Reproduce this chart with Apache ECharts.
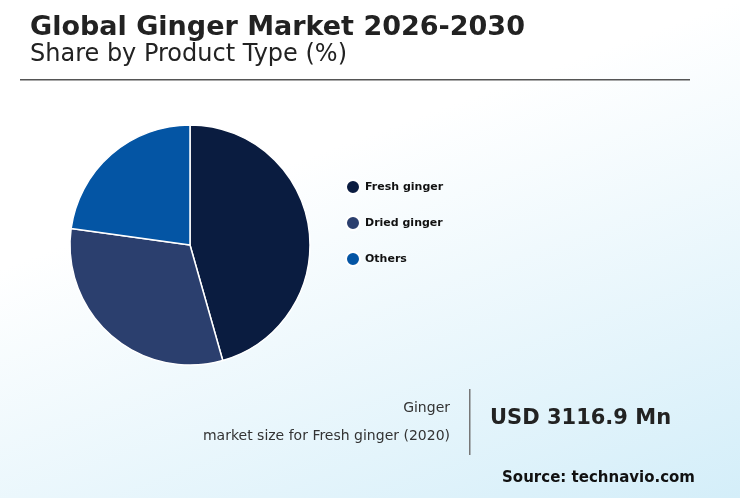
<!DOCTYPE html>
<html><head><meta charset="utf-8">
<script src="https://cdn.jsdelivr.net/npm/echarts@6/dist/echarts.min.js"></script>
<style>html,body{margin:0;padding:0;}#c{width:740px;height:498px;background:linear-gradient(160deg,#ffffff 35%,#d4eef9 100%);}</style>
</head><body><div id="c"></div>
<script>
const categories = ["Fresh ginger", "Dried ginger", "Others"];
const shares = [45.6, 31.6, 22.8];
const colors = ["#0a1c40", "#2b3f6e", "#0455a4"];
const chart = echarts.init(document.getElementById('c'));
const font = "DejaVu Sans";
chart.setOption({
  textStyle:{fontFamily:font},
  legend:{orient:'vertical', left:340, top:174, itemGap:20, icon:'circle', itemWidth:14, itemHeight:14,
    textStyle:{fontFamily:font, fontSize:11, fontWeight:'bold', color:'#111'}, data:categories},
  series:[{type:'pie', center:[190,245], radius:120, startAngle:90, label:{show:false}, labelLine:{show:false},
    itemStyle:{borderColor:'#fff', borderWidth:1.5}, emphasis:{disabled:true},
    data:categories.map((n,i)=>({name:n, value:shares[i], itemStyle:{color:colors[i]}}))}],
  graphic:[
    {type:'text', left:30, top:14, style:{text:'Global Ginger Market 2026-2030', font:'bold 27px '+font, fill:'#222'}},
    {type:'text', left:30, top:43, style:{text:'Share by Product Type (%)', font:'24px '+font, fill:'#222'}},
    {type:'rect', shape:{x:20, y:79, width:670, height:1.5}, style:{fill:'#555'}},
    {type:'text', right:290, top:401, style:{text:'Ginger', font:'14px '+font, fill:'#333', align:'right'}},
    {type:'text', right:290, top:429, style:{text:'market size for Fresh ginger (2020)', font:'14px '+font, fill:'#333', align:'right'}},
    {type:'rect', shape:{x:469, y:389, width:1.5, height:66}, style:{fill:'#777'}},
    {type:'text', left:490, top:408, style:{text:'USD 3116.9 Mn', font:'bold 21px '+font, fill:'#222'}},
    {type:'text', right:45, top:471, style:{text:'Source: technavio.com', font:'bold 15px '+font, fill:'#111', align:'right'}}
  ]
});
</script></body></html>
